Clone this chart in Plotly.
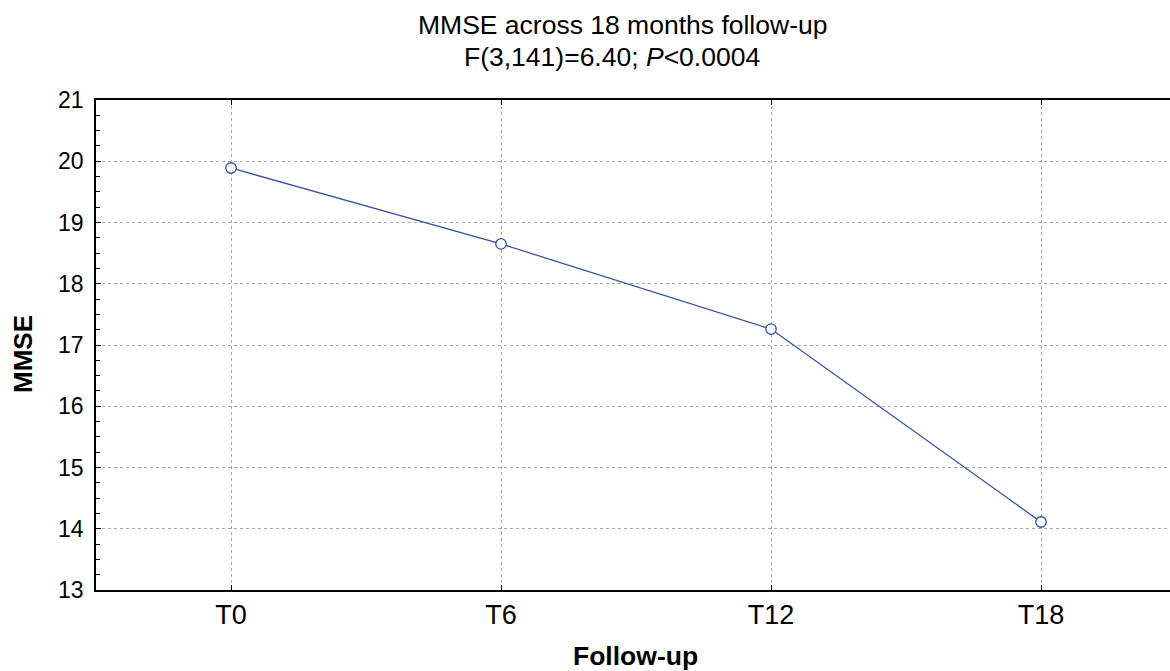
import plotly.graph_objects as go

categories = ["T0", "T6", "T12", "T18"]
mmse = [19.89, 18.65, 17.26, 14.11]
y_ticks = [13, 14, 15, 16, 17, 18, 19, 20, 21]
title_line1 = "MMSE across 18 months follow-up"
title_line2 = "F(3,141)=6.40; <i>P</i><0.0004"
x_title = "Follow-up"
y_title = "MMSE"

blue = "#3650a8"
fig = go.Figure()
fig.add_trace(go.Scatter(
    x=list(range(len(categories))), y=mmse, mode="lines+markers",
    line=dict(color=blue, width=1.3),
    marker=dict(symbol="circle", size=10.5, color="white", line=dict(color=blue, width=1.3)),
    showlegend=False, hoverinfo="skip"
))

font_family = "Arial, Liberation Sans, sans-serif"
# plot area: x 96..1184 px (figure wider than window, right edge hidden), y 100..590 px
PLOT_W = 1184 - 96
def py(p):
    return (590 - p) / 490
def px(p):
    return (p - 96) / PLOT_W

fig.update_layout(
    width=1184, height=671,
    margin=dict(l=96, r=0, t=100, b=81),
    paper_bgcolor="white", plot_bgcolor="white",
    font=dict(family=font_family, color="black", size=24),
    xaxis=dict(
        range=[-0.5, -0.5 + PLOT_W / 270],
        tickmode="array", tickvals=list(range(len(categories))), ticktext=categories,
        showline=True, linecolor="black", linewidth=1.5, mirror="ticks",
        ticks="inside", ticklen=5, tickcolor="black", tickwidth=1,
        showgrid=True, gridcolor="#a8a8a8", griddash="dot", gridwidth=1,
        zeroline=False,
        tickfont=dict(size=27),
        ticklabelstandoff=0,
    ),
    yaxis=dict(
        range=[13, 21],
        tickmode="array", tickvals=y_ticks, ticktext=[str(v) for v in y_ticks],
        showline=True, linecolor="black", linewidth=1.5, mirror=False,
        ticks="inside", ticklen=5, tickcolor="black", tickwidth=1,
        minor=dict(dtick=0.25, ticks="inside", ticklen=4, tickcolor="black", showgrid=False),
        showgrid=True, gridcolor="#a8a8a8", griddash="dot", gridwidth=1,
        zeroline=False,
        tickfont=dict(size=23),
        ticklabelstandoff=6,
    ),
    annotations=[
        dict(text=title_line1, xref="paper", yref="paper", x=px(622), y=py(24.5),
             xanchor="center", yanchor="middle", showarrow=False, font=dict(size=26.5)),
        dict(text=title_line2, xref="paper", yref="paper", x=px(612), y=py(57.5),
             xanchor="center", yanchor="middle", showarrow=False, font=dict(size=26.5)),
        dict(text="<b>" + x_title + "</b>", xref="paper", yref="paper", x=px(635), y=py(656),
             xanchor="center", yanchor="middle", showarrow=False, font=dict(size=26.5)),
        dict(text="<b>" + y_title + "</b>", xref="paper", yref="paper", x=px(23), y=py(354),
             xanchor="center", yanchor="middle", showarrow=False, textangle=-90,
             font=dict(size=26)),
    ],
)

fig.write_html("out.html", config={"displayModeBar": False},
               post_script="document.body.style.margin='0';document.body.style.overflow='hidden';"
                           "document.documentElement.style.overflow='hidden';")
